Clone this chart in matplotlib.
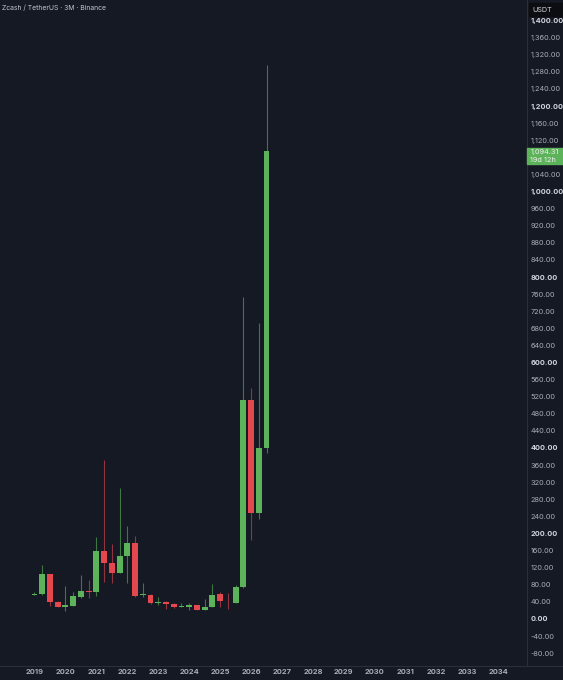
"""Zcash / TetherUS quarterly candles, TradingView-like dark chart"""

import matplotlib
matplotlib.use("Agg")
from matplotlib import pyplot as plt
from matplotlib import transforms
from matplotlib.patches import Rectangle
from matplotlib.lines import Line2D

# quarterly candles, 2019 Q1 .. 2026 Q3
quarters = [f"{y}Q{q}" for y in range(2019, 2027) for q in range(1, 5)][:31]
opens = [57, 59, 105, 40, 27, 31, 52, 66, 64, 159, 131, 107, 147, 178, 55, 57,
         38, 40, 36, 29, 28, 32, 21, 28, 58, 42, 38, 75, 512, 249, 400]
highs = [62, 126, 106, 43, 76, 62, 103, 91, 191, 372, 175, 306, 217, 194, 84, 58,
         51, 43, 37, 38, 38, 33, 46, 82, 64, 60, 79, 753, 540, 693, 1296]
lows = [55, 57, 31, 27, 19, 30, 50, 48, 54, 86, 84, 107, 84, 52, 52, 34,
        33, 23, 25, 28, 21, 21, 20, 27, 29, 23, 37, 73, 185, 233, 388]
closes = [59, 105, 39, 27, 32, 53, 65, 64, 159, 131, 107, 147, 178, 54, 58, 38,
          40, 35, 29, 31, 32, 21, 29, 57, 41, 41, 75, 512, 249, 400, 1094.31]

year_ticks = list(range(2019, 2035))
price_ticks = list(range(-80, 1401, 40))
last_price = "1,094.31"
countdown = "19d 12h"

BG = "#151924"
UP = "#5db35a"
DOWN = "#e5474e"
TXT = "#a9adb8"

plt.rcParams["font.family"] = ["Inter", "DejaVu Sans"]

fig = plt.figure(figsize=(5.63, 6.8), dpi=100, facecolor=BG)
ax = fig.add_axes([0, 14 / 680, 527 / 563, 666 / 680], facecolor=BG)

xs = [int(q[:4]) + (int(q[-1]) - 1) * 0.25 for q in quarters]
for x, o, h, l, c in zip(xs, opens, highs, lows, closes):
    col = UP if c >= o else DOWN
    ax.vlines(x, l, h, color=col, lw=0.8, alpha=0.6, zorder=2)
    body = max(abs(c - o), 1.5)
    ax.bar(x, body, bottom=min(o, c), width=0.19, color=col, lw=0, zorder=3)

ax.set_xlim(2017.885, 2034.92)
ax.set_ylim(-110, 1448)

# Format axes.
for side in ("top", "left", "bottom"):
    ax.spines[side].set_visible(False)
ax.spines["right"].set_color("#2a2e39")
ax.spines["right"].set_linewidth(0.8)

ax.set_xticks(year_ticks)
ax.set_xticklabels([str(y) for y in year_ticks], fontsize=5.4,
                   fontweight="bold", color=TXT)
ax.tick_params(axis="x", length=0, pad=2.2)

ax.yaxis.tick_right()
ax.set_yticks(price_ticks)
ax.set_yticklabels([f"{p:,.2f}" for p in price_ticks], fontsize=5.3, color=TXT)
ax.tick_params(axis="y", length=0, pad=2.5)
for p, lab in zip(price_ticks, ax.get_yticklabels()):
    if p % 200 == 0:
        lab.set_fontweight("bold")
        lab.set_color("#d1d4dc")
    if p == 1080:
        lab.set_visible(False)

# bottom separator
fig.add_artist(Line2D([0, 1], [14 / 680, 14 / 680], color="#2a2e39", lw=0.8))

# current price tag
trans = transforms.blended_transform_factory(ax.transAxes, ax.transData)
ax.add_patch(Rectangle((1.0, 1094.31 - 30), 36 / 527, 38, transform=trans,
                       color=UP, clip_on=False, zorder=5))
ax.text(1.0 + 3.5 / 527, 1094.31 - 1, last_price, transform=trans, fontsize=5.3,
        color="#eef2ee", va="center", ha="left", zorder=6)
ax.text(1.0 + 3.5 / 527, 1094.31 - 20, countdown, transform=trans, fontsize=5.3,
        color="#eef2ee", va="center", ha="left", zorder=6)

# currency box
fig.patches.append(Rectangle((529 / 563, 1 - 16 / 680), 34 / 563, 13 / 680,
                             transform=fig.transFigure, color="#0c0d10", zorder=5))
fig.text(532 / 563, 1 - 9.5 / 680, "USDT", fontsize=5.2, color="#d1d4dc",
         va="center", ha="left", zorder=6)

fig.text(2 / 563, 1 - 8 / 680, "Zcash / TetherUS · 3M · Binance", fontsize=4.9,
         color="#c3c6ce", va="center", ha="left")

fig.savefig("out.png", dpi=100, facecolor=BG)
